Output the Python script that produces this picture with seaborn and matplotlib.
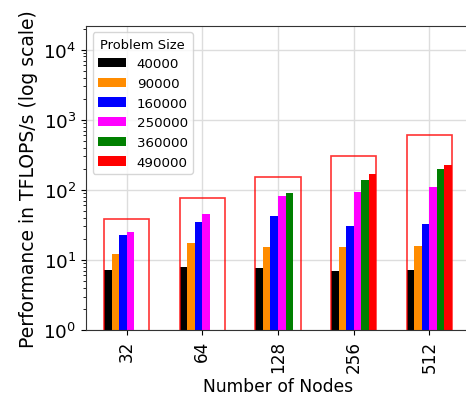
import pandas as pd
import numpy as np
import seaborn as sns
import matplotlib.pyplot as plt

nodes = ["32", "64", "128", "256", "512"]
sizes = ["40000", "90000", "160000", "250000", "360000", "490000"]
colors = ["black", "darkorange", "blue", "magenta", "green", "red"]

# TFLOPS/s per problem size (None = not run)
perf_40000 = [7.2, 7.9, 7.7, 7.0, 7.2]
perf_90000 = [12.2, 17.5, 15.3, 15.3, 15.8]
perf_160000 = [22.8, 34.9, 42.5, 30.6, 32.7]
perf_250000 = [25.1, 45.4, 81, 93, 109]
perf_360000 = [None, None, 90, 138, 198]
perf_490000 = [None, None, None, 169, 225]

peak = [38, 76, 152, 304, 608]

rows = []
for s, vals in zip(sizes, [perf_40000, perf_90000, perf_160000,
                           perf_250000, perf_360000, perf_490000]):
    for n, v in zip(nodes, vals):
        rows.append({"Nodes": n, "Problem Size": s, "Perf": np.nan if v is None else v})
df = pd.DataFrame(rows)

fig = plt.figure(figsize=(4.66, 4.02), dpi=100)
ax = fig.add_axes([0.1845, 0.1766, 0.8228, 0.757])
ax.set_yscale("log")

sns.barplot(data=df, x="Nodes", y="Perf", hue="Problem Size", order=nodes,
            hue_order=sizes, palette=colors, width=0.6, saturation=1,
            errorbar=None, ax=ax)

ax.bar(range(len(nodes)), peak, width=0.6, bottom=0.001, fill=False,
       edgecolor="red", linewidth=1.2, alpha=0.8)

ax.set_ylim(1, 2.2e4)
ax.set_xlim(-0.538, 4.53)
ax.grid(True, which="major", color="#dddddd", linewidth=1)
ax.set_axisbelow(True)
for sp in ax.spines.values():
    sp.set_color("#333333")

ax.set_xlabel("Number of Nodes", fontsize=12.3)
ax.set_ylabel("Performance in TFLOPS/s (log scale)", fontsize=13.5)
ax.tick_params(axis="x", labelsize=12.2, rotation=90)
ax.tick_params(axis="y", labelsize=13.2)

ax.legend(title="Problem Size", loc="upper left", fontsize=9.6, title_fontsize=9.4,
          handlelength=2.1, handleheight=0.7, handletextpad=0.8)

plt.savefig("out.png", dpi=100)
